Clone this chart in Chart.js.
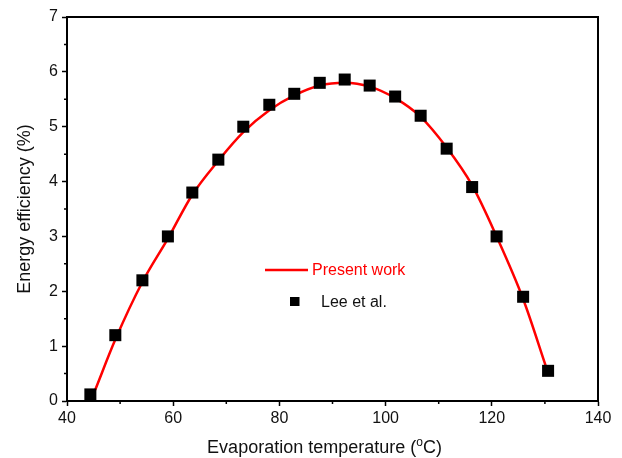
<!DOCTYPE html>
<html>
<head>
<meta charset="utf-8">
<script src="https://cdn.jsdelivr.net/npm/chart.js@4.4.0/dist/chart.umd.min.js"></script>
<style>
  html, body { margin: 0; padding: 0; background: #fff; }
  #wrap { width: 622px; height: 458px; }
</style>
</head>
<body>
<div id="wrap"><canvas id="grafico" width="622" height="458"></canvas></div>
<script>
// Datos
const leeTemp = [44.4, 49.1, 54.2, 59.0, 63.6, 68.5, 73.2, 78.1, 82.8, 87.6, 92.3, 97.0, 101.8, 106.6, 111.5, 116.3, 120.9, 125.9, 130.6];
const leeEff = [0.12, 1.2, 2.2, 3.0, 3.8, 4.4, 5.0, 5.4, 5.6, 5.8, 5.86, 5.75, 5.55, 5.2, 4.6, 3.9, 3.0, 1.9, 0.55];

const presentTemp = [45.3, 49.1, 54.2, 59.0, 63.6, 68.5, 73.2, 78.1, 82.8, 87.6, 92.3, 97.0, 101.8, 106.6, 111.5, 116.3, 120.9, 125.9, 130.3];
const presentEff = [0.2, 1.12, 2.17, 2.96, 3.76, 4.38, 4.9, 5.3, 5.57, 5.75, 5.8, 5.73, 5.52, 5.18, 4.62, 3.93, 3.0, 1.86, 0.6];

const xTicks = [40, 60, 80, 100, 120, 140];
const yTicks = [0, 1, 2, 3, 4, 5, 6, 7];
const seriesNames = ['Present work', 'Lee et al.'];

const fuente = 'Liberation Sans, Arial, Helvetica, sans-serif';

// Plugin para marco, ticks menores, leyenda y título del eje x
const marcoPlugin = {
  id: 'marco',
  afterDraw(chart) {
    const ctx = chart.ctx;
    const a = chart.chartArea;
    const xs = chart.scales.x;
    const ys = chart.scales.y;
    ctx.save();
    ctx.strokeStyle = '#000';
    ctx.lineWidth = 2;
    ctx.beginPath();
    ctx.moveTo(a.left, a.top);
    ctx.lineTo(a.right, a.top);
    ctx.lineTo(a.right, a.bottom);
    ctx.stroke();

    // ticks menores
    ctx.lineWidth = 1.5;
    ctx.beginPath();
    for (let v = 50; v < 140; v += 20) {
      const px = xs.getPixelForValue(v);
      ctx.moveTo(px, a.bottom);
      ctx.lineTo(px, a.bottom + 3);
    }
    for (let v = 0.5; v < 7; v += 1) {
      const py = ys.getPixelForValue(v);
      ctx.moveTo(a.left, py);
      ctx.lineTo(a.left - 3, py);
    }
    ctx.stroke();

    // leyenda
    const lx = a.left + 198;
    const ly = a.top + 253;
    ctx.strokeStyle = '#ff0000';
    ctx.lineWidth = 2.5;
    ctx.beginPath();
    ctx.moveTo(lx, ly);
    ctx.lineTo(lx + 43, ly);
    ctx.stroke();
    ctx.font = '16px ' + fuente;
    ctx.textBaseline = 'middle';
    ctx.textAlign = 'left';
    ctx.fillStyle = '#ff0000';
    ctx.fillText(seriesNames[0], lx + 47, ly + 1);
    ctx.fillStyle = '#000';
    ctx.fillRect(lx + 25, ly + 27, 9.5, 9);
    ctx.fillStyle = '#111';
    ctx.fillText(seriesNames[1], lx + 56, ly + 33);

    // título eje x con superíndice
    const cx = (a.left + a.right) / 2 - 8;
    const ty = 453;
    const p1 = 'Evaporation temperature (';
    const p2 = 'o';
    const p3 = 'C)';
    ctx.font = '18px ' + fuente;
    const w1 = ctx.measureText(p1).width;
    const w3 = ctx.measureText(p3).width;
    ctx.font = '12px ' + fuente;
    const w2 = ctx.measureText(p2).width;
    const total = w1 + w2 + w3;
    const x0 = cx - total / 2;
    ctx.fillStyle = '#111';
    ctx.textBaseline = 'alphabetic';
    ctx.font = '18px ' + fuente;
    ctx.fillText(p1, x0, ty);
    ctx.font = '12px ' + fuente;
    ctx.fillText(p2, x0 + w1, ty - 7);
    ctx.font = '18px ' + fuente;
    ctx.fillText(p3, x0 + w1 + w2, ty);
    ctx.restore();
  }
};

new Chart(document.getElementById('grafico'), {
  type: 'scatter',
  data: {
    datasets: [
      {
        label: seriesNames[0],
        data: presentTemp.map((t, i) => ({ x: t, y: presentEff[i] })),
        showLine: true,
        borderColor: '#ff0000',
        borderWidth: 2.5,
        pointRadius: 0,
        tension: 0.4,
        cubicInterpolationMode: 'monotone',
        order: 2
      },
      {
        label: seriesNames[1],
        data: leeTemp.map((t, i) => ({ x: t, y: leeEff[i] })),
        showLine: false,
        pointStyle: 'rect',
        pointRadius: 8.5,
        backgroundColor: '#000',
        borderWidth: 0,
        order: 1
      }
    ]
  },
  options: {
    responsive: false,
    animation: false,
    layout: { padding: { top: 17, right: 24, left: 0, bottom: 0 } },
    plugins: {
      legend: { display: false },
      tooltip: { enabled: false }
    },
    scales: {
      x: {
        type: 'linear',
        min: 40,
        max: 140,
        afterBuildTicks(scale) { scale.ticks = xTicks.map(v => ({ value: v })); },
        afterFit(scale) { scale.height = 57; },
        grid: { drawOnChartArea: false, tickLength: 5, tickColor: '#000', tickWidth: 1.5 },
        border: { color: '#000', width: 2 },
        ticks: { color: '#111', font: { family: fuente, size: 16 }, padding: 3, maxRotation: 0 }
      },
      y: {
        min: 0,
        max: 7,
        afterBuildTicks(scale) { scale.ticks = yTicks.map(v => ({ value: v })); },
        afterFit(scale) { scale.width = 67; },
        grid: { drawOnChartArea: false, tickLength: 5, tickColor: '#000', tickWidth: 1.5 },
        border: { color: '#000', width: 2 },
        ticks: { color: '#111', font: { family: fuente, size: 16 }, padding: 4 },
        title: {
          display: true,
          text: 'Energy efficiency (%)',
          color: '#111',
          font: { family: fuente, size: 18 },
          padding: { top: 14, bottom: 0 }
        }
      }
    }
  },
  plugins: [marcoPlugin]
});
</script>
</body>
</html>
